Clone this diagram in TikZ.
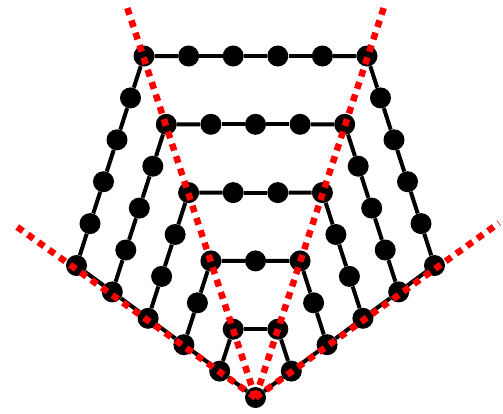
\documentclass[tikz,border=0pt]{standalone}
\usetikzlibrary{calc}
\begin{document}
\begin{tikzpicture}[x=1pt,y=-1pt,
  dot/.style={circle,fill=black,minimum size=21pt,inner sep=0pt},
  edge/.style={line width=4pt,black},
  redline/.style={red,line width=6.5pt,dash pattern=on 7pt off 6pt}]
\useasboundingbox (0,0) rectangle (503,413);
\def\cx{255.5}\def\cy{397.5}
\node[dot] (O) at (\cx,\cy) {};
\foreach \k in {1,...,5}{
  \foreach \j in {0,...,\k}{
    \node[dot] (L\k-\j) at ({\cx-35.8*\k+13.5*\j},{\cy-26.4*\k-41.9*\j}) {};
    \node[dot] (R\k-\j) at ({\cx+35.8*\k-13.5*\j},{\cy-26.4*\k-41.9*\j}) {};
  }
}
\foreach \k in {2,...,5}{
  \pgfmathtruncatemacro\km{\k-1}
  \foreach \j in {1,...,\km}{
    \node[dot] (T\k-\j) at ({\cx-22.3*\k+44.6*\j},{\cy-68.3*\k}) {};
  }
}
% side chains
\foreach \k in {1,...,5}{
  \foreach \j in {1,...,\k}{
    \pgfmathtruncatemacro\p{\j-1}
    \draw[edge] (L\k-\p) -- (L\k-\j);
    \draw[edge] (R\k-\p) -- (R\k-\j);
  }
}
% top chains
\foreach \k in {1,...,5}{
  \foreach \j in {1,...,\k}{
    \pgfmathtruncatemacro\p{\j-1}
    \ifnum\p=0 \edef\A{L\k-\k}\else\edef\A{T\k-\p}\fi
    \ifnum\j=\k \edef\B{R\k-\k}\else\edef\B{T\k-\j}\fi
    \draw[edge] (\A) -- (\B);
  }
}
% bottom chains
\draw[edge] (O) -- (L1-0) -- (L2-0) -- (L3-0) -- (L4-0) -- (L5-0);
\draw[edge] (O) -- (R1-0) -- (R2-0) -- (R3-0) -- (R4-0) -- (R5-0);
% red dotted rays
\coordinate (eLo) at (13,224);
\coordinate (eRo) at (499,223);
\coordinate (eLi) at (126,4);
\coordinate (eRi) at (385,4);
\draw[redline] (O.center) -- (eLi);
\draw[redline] (O.center) -- (eRi);
\draw[redline] (O.center) -- (eLo);
\draw[redline] (O.center) -- (eRo);
\end{tikzpicture}
\end{document}
